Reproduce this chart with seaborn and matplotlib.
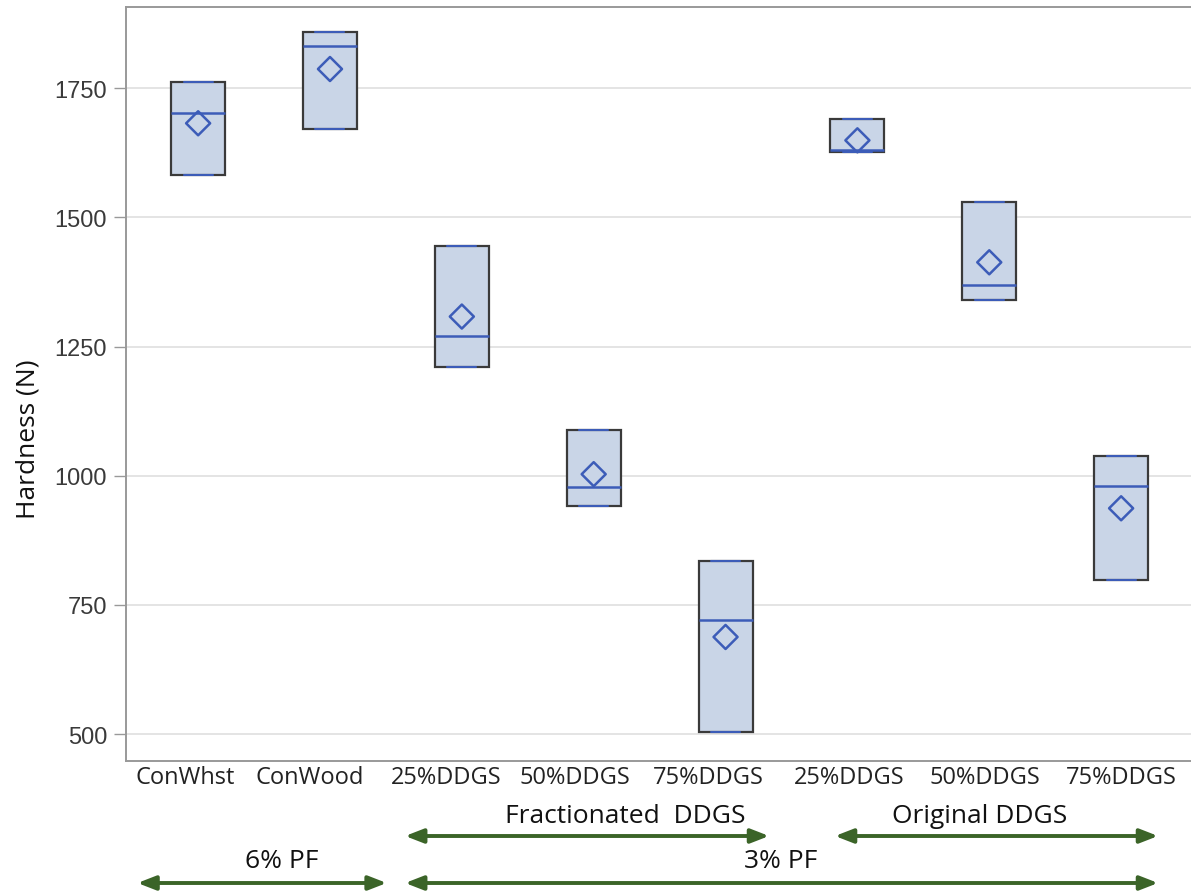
import numpy as np
import pandas as pd
import matplotlib
matplotlib.use("Agg")
import matplotlib.pyplot as plt
import matplotlib.transforms as mtransforms
import seaborn as sns

# ---- data ----
group_labels = ["ConWhst", "ConWood", "25%DDGS", "50%DDGS", "75%DDGS",
                "25%DDGS", "50%DDGS", "75%DDGS"]
group_keys = ["ConWhst", "ConWood", "F25", "F50", "F75", "O25", "O50", "O75"]
lows = [1582, 1671, 1210, 941, 504, 1626, 1340, 798]
medians = [1702, 1831, 1270, 978, 720, 1630, 1369, 980]
highs = [1762, 1858, 1444, 1088, 835, 1690, 1529, 1038]
means = [1682, 1787, 1308, 1003, 688, 1649, 1413, 937]
y_ticks = [500, 750, 1000, 1250, 1500, 1750]

sns.set_theme(style="white")
plt.rcParams["font.family"] = ["Liberation Sans", "DejaVu Sans"]

fig = plt.figure(figsize=(11.91, 8.95), dpi=100)
ax = fig.add_axes([126 / 1191, 1 - 762 / 895, 1 - 126 / 1191, (762 - 8) / 895])

pos = np.arange(len(group_keys))
stats = []
for k, lo, me, hi in zip(group_keys, lows, medians, highs):
    stats.append(dict(label=k, med=me, q1=lo, q3=hi, whislo=lo, whishi=hi, fliers=[]))

ax.bxp(stats, positions=pos, widths=0.41, patch_artist=True, showfliers=False,
       boxprops=dict(facecolor="#c9d5e7", edgecolor="#3a3a3a", linewidth=1.6),
       medianprops=dict(color="#3c5cb8", linewidth=1.8),
       whiskerprops=dict(color="#3c5cb8", linewidth=0),
       capprops=dict(color="#3c5cb8", linewidth=1.5),
       capwidths=0.22, manage_ticks=False)

df_mean = pd.DataFrame({"x": pos, "mean": means})
sns.scatterplot(data=df_mean, x="x", y="mean", ax=ax, marker="D", s=150,
                facecolor="none", edgecolor="#3c5cb8", linewidth=1.8, zorder=5)

ax.set_xlim(-0.547, 7.53)
ax.set_ylim(448, 1907)
ax.set_yticks(y_ticks)
ax.set_yticklabels([str(v) for v in y_ticks], fontsize=17, color="#3a3a3a")
# category labels sit slightly left of their boxes in the reference (invisible ticks)
label_nudge = np.array([-13, -20, -16, -19, -17, -8, -4, 0]) / 131.6
ax.set_xticks(pos + label_nudge)
ax.set_xticklabels(group_labels, fontsize=17, color="#222222",
                   family=["Open Sans", "DejaVu Sans"])
ax.tick_params(axis="y", length=8.6, width=1, color="#999999", pad=5, left=True)
ax.tick_params(axis="x", length=0, pad=3)
ax.yaxis.grid(True, color="#e4e4e4", linewidth=1.4)
ax.set_axisbelow(True)
ax.set_xlabel("")
ax.set_ylabel("Hardness (N)", fontsize=19, family=["Open Sans", "DejaVu Sans"],
              color="#111111")
ax.yaxis.set_label_coords(-0.080, 0.428)
for s in ["left", "bottom", "top"]:
    ax.spines[s].set_color("#999999")
    ax.spines[s].set_linewidth(1.4)
ax.spines["right"].set_visible(False)

# ---- group annotations under the axis ----
tr = mtransforms.blended_transform_factory(ax.transData, fig.transFigure)
green = "#3b6428"
afont = dict(fontsize=19, family=["Open Sans", "DejaVu Sans"], color="#111111",
             ha="center", va="center", transform=tr)
arrow = dict(arrowstyle="<|-|>,head_length=0.9,head_width=0.35", color=green, lw=2.8,
             shrinkA=0, shrinkB=0)

def span(x0, x1, y):
    ax.annotate("", xy=(x1, y), xytext=(x0, y), xycoords=tr, textcoords=tr,
                arrowprops=arrow, annotation_clip=False)

ax.text(3.24, 1 - 817 / 895, "Fractionated  DDGS", **afont)
span(2 - 0.43, 4 + 0.33, 1 - 837 / 895)
ax.text(5.93, 1 - 817 / 895, "Original DDGS", **afont)
span(5 - 0.17, 7 + 0.28, 1 - 837 / 895)
ax.text(0.63, 1 - 862 / 895, "6% PF", **afont)
span(-0.46, 1 + 0.43, 1 - 884 / 895)
ax.text(4.42, 1 - 862 / 895, "3% PF", **afont)
span(2 - 0.43, 7 + 0.28, 1 - 884 / 895)

fig.savefig("out.png", dpi=100)
